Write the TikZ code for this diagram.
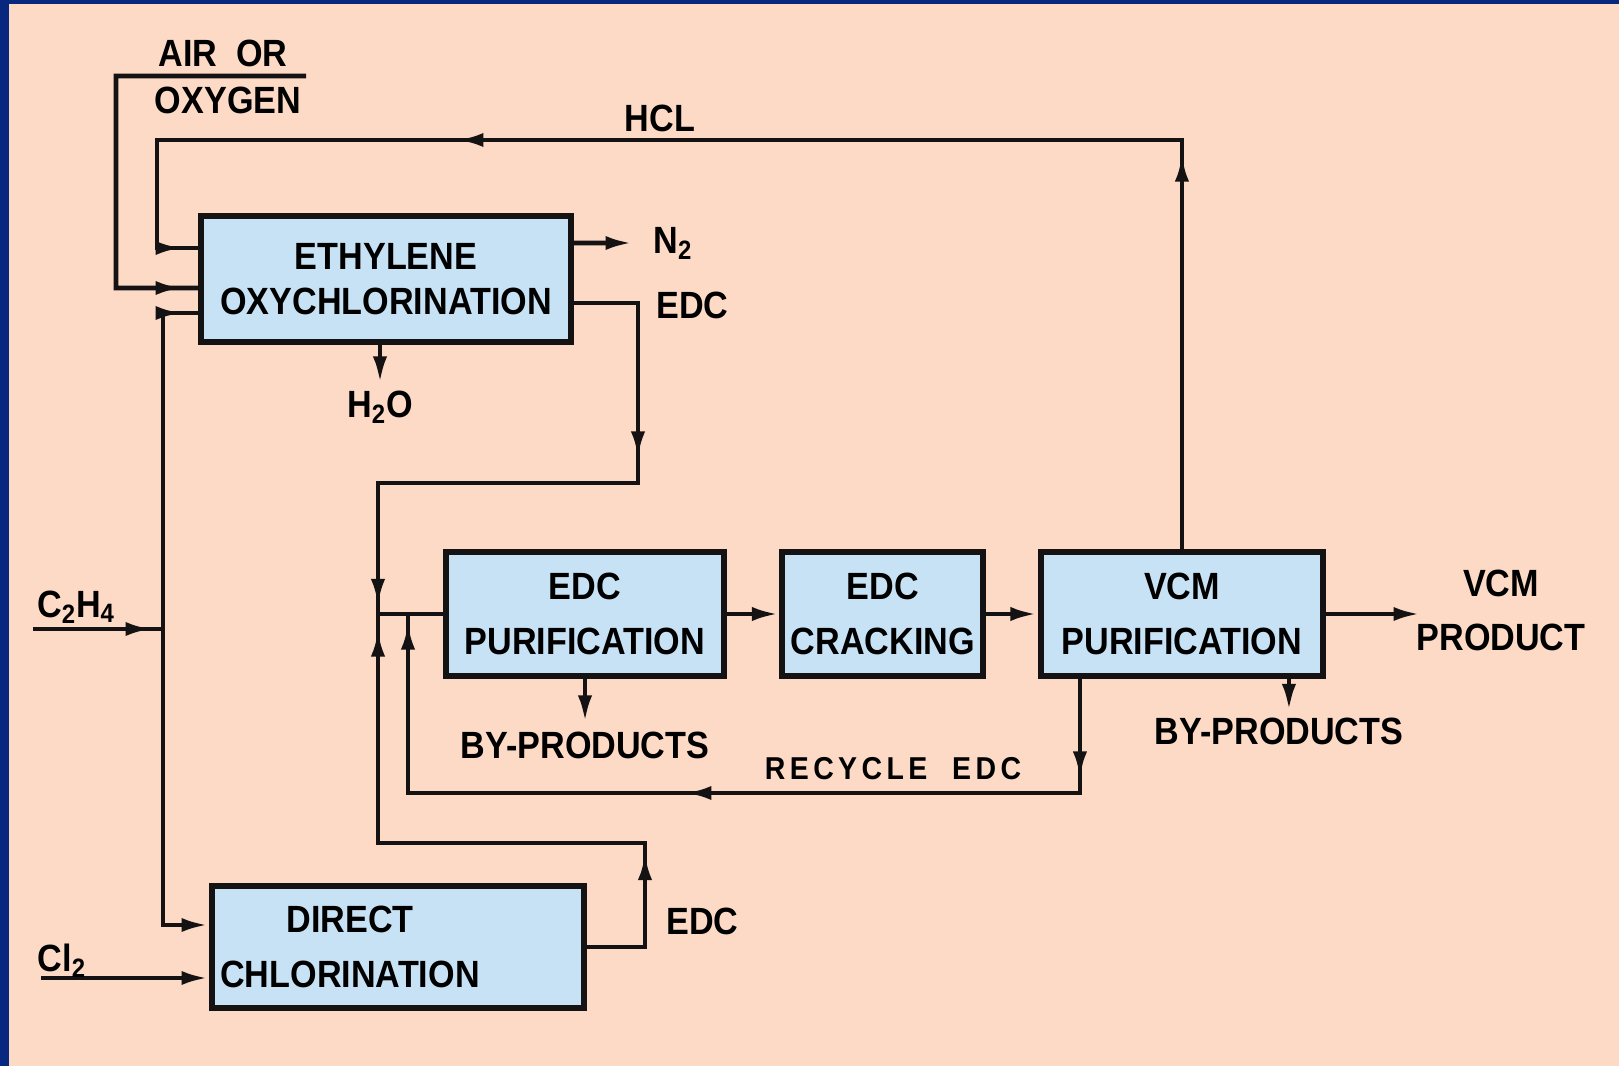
\documentclass[tikz,border=0pt]{standalone}
\usepackage{fontspec}
\setmainfont{Liberation Sans}[FakeStretch=0.9]
\usepackage{xcolor}
\usepackage{tikz}
\usetikzlibrary{arrows.meta,positioning,decorations.markings}
\definecolor{paper}{RGB}{252,218,198}
\definecolor{boxblue}{RGB}{200,226,245}
\definecolor{frameblue}{RGB}{8,40,128}
\definecolor{ink}{RGB}{20,18,18}

\begin{document}
\begin{tikzpicture}[
  font=\fontsize{21.6}{31}\selectfont\bfseries,
  box/.style={draw=ink, line width=3.4pt, fill=boxblue, align=center,
              inner sep=1mm, minimum height=2.48cm},
  lbl/.style={inner sep=0pt, align=center},
  pipe/.style={draw=ink, line width=2.8pt},
  arr/.style={pipe, -{Latex[length=5.5mm,width=2.8mm]}},
  flowline/.style={pipe, postaction={decorate}, decoration=markings},
  arrowat/.style={decoration={mark=at position #1 with {\arrow{Latex[length=5.5mm,width=2.8mm]}}}}
]
\useasboundingbox (0,0) rectangle (32.38,21.32);
\fill[paper] (0,0) rectangle (32.38,21.32);
\fill[frameblue] (0,0) rectangle (0.18,21.32);
\fill[frameblue] (0,21.24) rectangle (32.38,21.32);

\node[box, minimum width=7.40cm, minimum height=2.52cm] (oxy) at (7.72,15.74) {ETHYLENE\\[-2mm]OXYCHLORINATION};
\node[box, minimum width=5.56cm] (edcpur) at (11.70,9.04) {EDC\\PURIFICATION};
\node[box, minimum width=4.02cm, right=1.05cm of edcpur] (crack) {EDC\\CRACKING};
\node[box, minimum width=5.64cm, right=1.03cm of crack] (vcmpur) {VCM\\PURIFICATION};
\node[box, minimum width=7.44cm, minimum height=2.44cm] (dcl) at (7.96,2.38) {};
\node[lbl] (dcltext) at ([xshift=-9.6mm]dcl.center) {DIRECT\\CHLORINATION};

\coordinate (hclturn) at (3.14,18.52);
\coordinate (airend) at (6.12,19.80);
\coordinate (ethstart) at (0.66,8.74);
\coordinate (ethjoin) at (3.26,8.74);
\coordinate (clstart) at (0.82,1.76);
\coordinate (edcjoin) at (7.56,9.04);
\coordinate (recyjoin) at (8.16,9.04);
\coordinate (ntwoend) at (12.66,16.46);
\coordinate (prodend) at (28.42,9.04);

\draw[flowline, arrowat=7.9cm, arrowat=22.7cm, arrowat=-3mm] (vcmpur.north) |- (hclturn) |- ([yshift=6.2mm]oxy.west);
\draw[flowline, arrowat=-3mm] (airend) -| (2.32,15.56) -- ([yshift=-1.8mm]oxy.west);
\draw[flowline, arrowat=-2mm] (ethstart) -- (ethjoin);
\draw[flowline, arrowat=-3mm] (ethjoin) |- ([yshift=-6.8mm]oxy.west);
\draw[arr] (ethjoin) |- ([yshift=4.4mm]dcl.west);
\draw[arr] (clstart) -- (clstart -| dcl.west);

\draw[flowline, arrowat=4.4cm, arrowat=-1.5mm] ([yshift=-4.8mm]oxy.east) -| (12.76,11.66) -| (edcjoin);
\draw[flowline, arrowat=3.05cm, arrowat=-3mm] (dcl.east) -| (12.90,4.46) -| (edcjoin);
\draw[pipe] (edcjoin) -- (edcpur.west);
\draw[flowline, arrowat=2.0cm, arrowat=10.2cm, arrowat=-1.6mm] ([xshift=-20.4mm]vcmpur.south) |- (8.16,5.46) -- (recyjoin);

\draw[arr] (edcpur) -- (crack);
\draw[arr] (crack) -- (vcmpur);
\draw[arr] (vcmpur) -- (prodend);
\draw[arr] ([yshift=7.2mm]oxy.east) -- (ntwoend);
\draw[arr] ([xshift=-1.2mm]oxy.south) -- ++(0,-0.78) coordinate (waterend);
\draw[arr] (edcpur.south) -- ++(0,-0.88) coordinate (byedcend);
\draw[arr] ([xshift=21.4mm]vcmpur.south) -- ++(0,-0.65) coordinate (byvcmend);

\node[lbl] (air) at (4.46,20.26) {AIR~~OR};
\node[lbl] (oxygen) at (4.56,19.32) {OXYGEN};
\node[lbl] (hcl) at (13.20,18.96) {HCL};
\node[lbl, right=4mm of ntwoend] (ntwo) {N\textsubscript{2}};
\node[lbl, anchor=west] (edcup) at (13.12,15.22) {EDC};
\node[lbl, below=1.3mm of waterend] (water) {H\textsubscript{2}O};
\node[lbl] (ethyl) at (1.52,9.18) {C\textsubscript{2}H\textsubscript{4}};
\node[lbl] (chlor) at (1.24,2.10) {Cl\textsubscript{2}};
\node[lbl, anchor=west] (edcdown) at (13.32,2.90) {EDC};
\node[lbl, below=1.7mm of byedcend] (byedc) {BY-PRODUCTS};
\node[lbl, below=1.3mm of byvcmend, xshift=-2mm] (byvcm) {BY-PRODUCTS};
\node[lbl] (vcmprod) at (30.02,9.11) {VCM\\PRODUCT};
\node[lbl, font=\fontsize{18}{22}\selectfont\bfseries\addfontfeatures{LetterSpace=14}] (recyc) at (17.86,5.94) {RECYCLE~~EDC};
\end{tikzpicture}
\end{document}
